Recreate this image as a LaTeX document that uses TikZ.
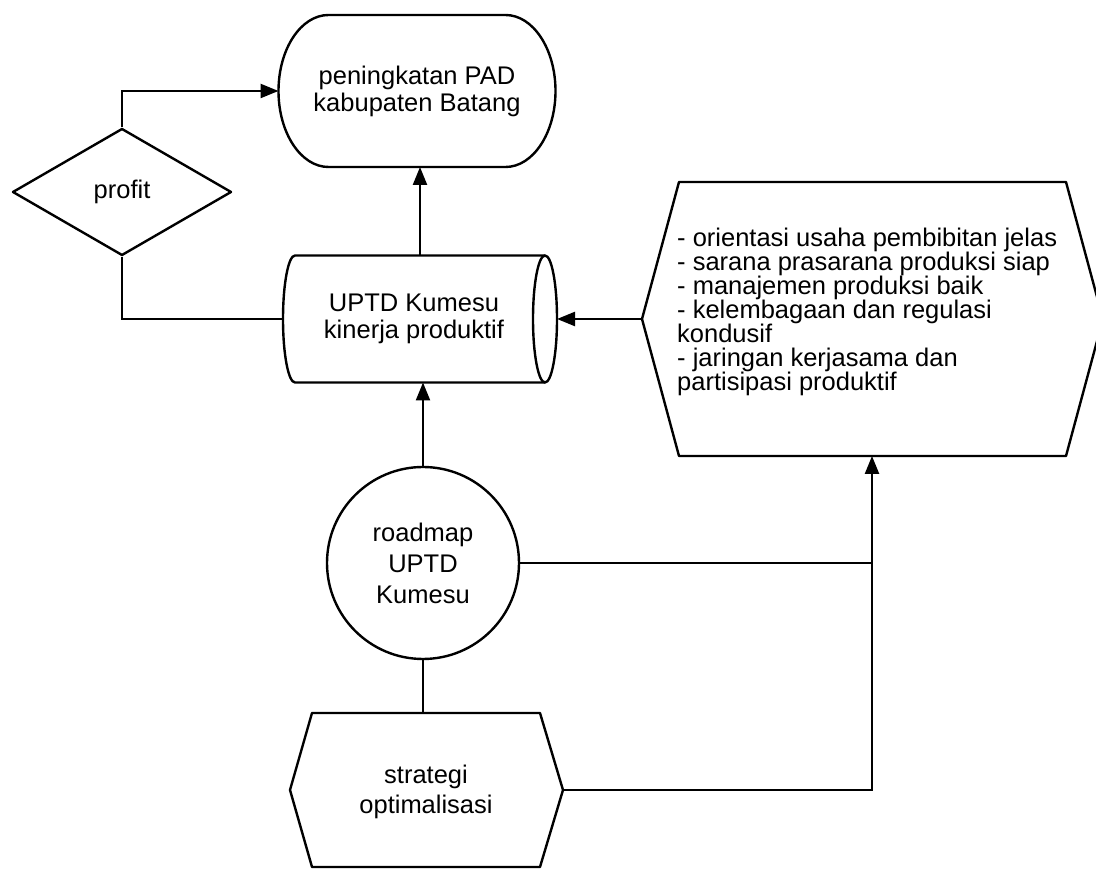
\documentclass[tikz,border=0pt]{standalone}
\usepackage{fontspec}
\setmainfont{Liberation Sans}
\usetikzlibrary{arrows.meta,shapes.geometric}
\begin{document}
\begin{tikzpicture}[x=1pt,y=1pt,
  line width=2.4pt,
  shapeline/.style={draw=black, line width=2.4pt, line join=round},
  conn/.style={draw=black, line width=2.4pt},
  arr/.style={conn, -{Triangle[length=18pt,width=14pt]}},
  lbl/.style={font=\fontsize{25.5}{27}\selectfont, align=center, inner sep=0pt},
  box/.style={inner sep=0pt, outer sep=0pt},
]
\useasboundingbox (0,0) rectangle (1096,873);
\fill[white] (0,0) rectangle (1096,873);
\clip (0,0) rectangle (1096,873);

% peningkatan PAD (terminal)
\node[lbl, box, minimum width=277pt, minimum height=152pt] (pad) at (417,782) {peningkatan PAD\\kabupaten Batang};
\draw[shapeline] (328.5,858) -- (505.5,858)
  arc[start angle=90, end angle=-90, x radius=50, y radius=76]
  -- (328.5,706)
  arc[start angle=270, end angle=90, x radius=50, y radius=76] -- cycle;

% profit (decision)
\node[shapeline, diamond, minimum width=219pt, minimum height=127pt, inner sep=0pt,
      font=\fontsize{25.5}{27}\selectfont] (profit) at (122,681) {profit};

% UPTD Kumesu (cylinder)
\node[box, minimum width=274pt, minimum height=127pt] (uptd) at (420,554) {};
\draw[shapeline] (545,617.5) -- (295,617.5)
  arc[start angle=90, end angle=270, x radius=12, y radius=63.5] -- (545,490.5);
\draw[shapeline] (545,554) ellipse[x radius=12, y radius=63.5];
\node[lbl] (uptdtext) at (414,554) {UPTD Kumesu\\kinerja produktif};

% factors (display shape)
\coordinate (fL) at (642,554);
\coordinate (fB) at (872,417);
\draw[shapeline] (fL) -- (679,691) -- (1066,691) -- (1103,554) -- (1066,417) -- (679,417) -- cycle;
\node[font=\fontsize{25.5}{24}\selectfont, align=left, inner sep=0pt, anchor=north west] (factors) at (676,646)
  {- orientasi usaha pembibitan jelas\\
   - sarana prasarana produksi siap\\
   - manajemen produksi baik\\
   - kelembagaan dan regulasi\\
   kondusif\\
   - jaringan kerjasama dan\\
   partisipasi produktif};

% roadmap (circle)
\node[shapeline, circle, minimum size=192pt, inner sep=0pt,
      font=\fontsize{25.5}{31}\selectfont, align=center] (road) at (423,310) {roadmap\\UPTD\\Kumesu};

% strategi optimalisasi (preparation)
\coordinate (sT) at (426,160);
\coordinate (sR) at (563,83);
\draw[shapeline] (312,160) -- (540,160) -- (sR) -- (540,6) -- (312,6) -- (290,83) -- cycle;
\node[lbl, font=\fontsize{25.5}{30}\selectfont] (strat) at (426,81) {strategi\\optimalisasi};

% connectors
\draw[arr] (uptd.north) -- (uptd.north |- pad.south);
\draw[arr] (profit.north) |- (pad.west);
\draw[conn] (profit.south) |- (uptd.west);
\draw[arr] (fL) -- (uptd.east);
\draw[arr] (road.north) -- (road.north |- uptd.south);
\draw[conn] (road.east) -- (road.east -| fB);
\draw[conn] (road.south) -- (road.south |- sT);
\draw[arr] (sR) -| (fB);
\end{tikzpicture}
\end{document}
